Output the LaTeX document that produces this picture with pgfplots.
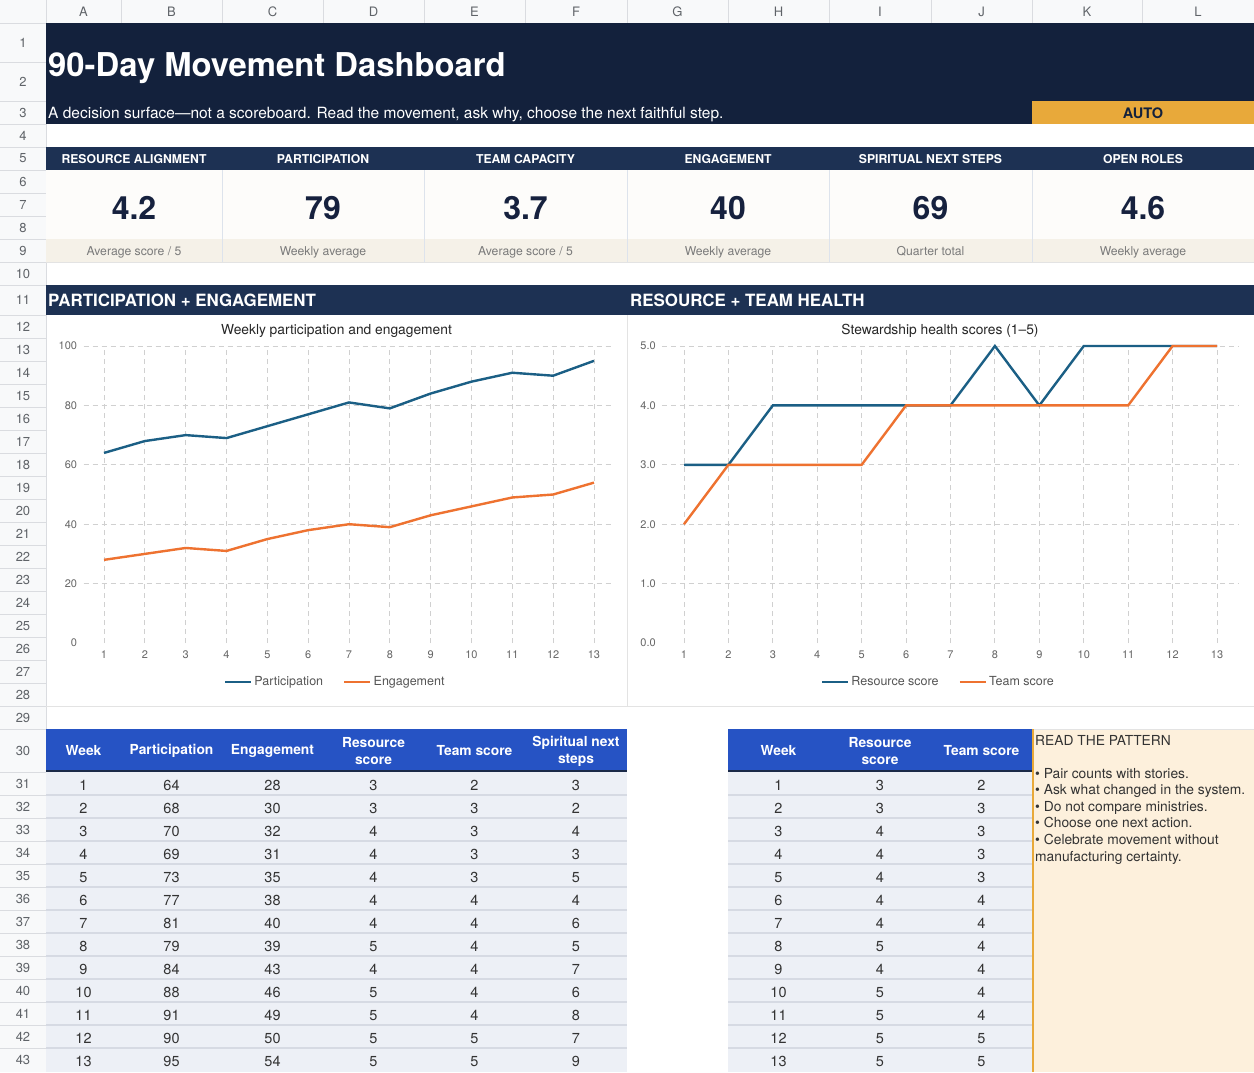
\documentclass[border=0pt]{standalone}
\usepackage{pgfplots}
\usepackage{pgfplotstable}
\pgfplotsset{compat=1.18}
\usepackage{fontspec}
\setmainfont{TeX Gyre Heros}

\definecolor{banner}{HTML}{13213C}
\definecolor{bar}{HTML}{1D3153}
\definecolor{autoorange}{HTML}{E8A93A}
\definecolor{kpival}{HTML}{16213E}
\definecolor{kpibg}{HTML}{FDFCFA}
\definecolor{kpisub}{HTML}{F5F1E8}
\definecolor{kpisep}{HTML}{DDE3EC}
\definecolor{subgrey}{HTML}{7A7A7A}
\definecolor{headbg}{HTML}{F8F9FA}
\definecolor{hdrline}{HTML}{DADCE0}
\definecolor{headtxt}{HTML}{5F6368}
\definecolor{thblue}{HTML}{2653C4}
\definecolor{thline}{HTML}{1B2A48}
\definecolor{tbody}{HTML}{EDF0F6}
\definecolor{tsep}{HTML}{D6DAE3}
\definecolor{notebg}{HTML}{FDF0DC}
\definecolor{partc}{HTML}{1B5F85}
\definecolor{engc}{HTML}{EE7230}
\definecolor{gridc}{HTML}{D0D0D0}
\definecolor{ticktxt}{HTML}{666666}
\definecolor{legtxt}{HTML}{555555}
\definecolor{bodytxt}{HTML}{333333}
\definecolor{panelline}{HTML}{E3E3E3}

% weekly movement data
\pgfplotstableread{
week part eng res team steps
1  64 28 3 2 3
2  68 30 3 3 2
3  70 32 4 3 4
4  69 31 4 3 3
5  73 35 4 3 5
6  77 38 4 4 4
7  81 40 4 4 6
8  79 39 5 4 5
9  84 43 4 4 7
10 88 46 5 4 6
11 91 49 5 4 8
12 90 50 5 5 7
13 95 54 5 5 9
}\movement

\newcommand{\fsz}[2]{\fontsize{#1}{#2}\selectfont}

\newcommand{\kpi}[4]{%
  \node[anchor=base, text=white, font=\bfseries\fsz{12.2}{14}] at (#1,-163) {#2};
  \node[anchor=base, text=kpival, font=\bfseries\fsz{32}{36}] at (#1,-219) {#3};
  \node[anchor=base, text=subgrey, font=\fsz{12.2}{14}] at (#1,-255) {#4};
}
\newcommand{\thcell}[2]{%
  \node[anchor=center, align=center, text=white, font=\bfseries\fsz{13.8}{17}] at (#1,-751) {#2};
}

\pgfplotsset{
  chartaxis/.style={
    scale only axis, clip=false,
    axis line style={draw=none},
    major tick length=0pt,
    xmajorgrids=true, ymajorgrids=false,
    extra y tick labels={},
    extra y tick style={grid=major},
    grid style={gridc, dash pattern=on 5pt off 4pt, line width=0.9pt},
    tick label style={font=\fsz{11}{12}, text=ticktxt},
    xticklabel style={yshift=-4.5pt},
    /pgf/number format/assume math mode=true,
    legend cell align=left,
    legend columns=2,
    legend style={draw=none, fill=none, font=\fsz{12.5}{14}, text=legtxt,
      anchor=center, /tikz/every even column/.append style={column sep=18pt}},
    legend image code/.code={\draw[##1, line width=2.5pt] (0pt,0pt) -- (26pt,0pt);},
  }
}

\begin{document}
\begin{tikzpicture}[x=1pt,y=1pt]
\path[use as bounding box] (0,0) rectangle (1254,-1072);
\fill[white] (0,0) rectangle (1254,-1072);

% ---- sheet headers ----
\fill[headbg] (0,0) rectangle (1254,-23);
\fill[headbg] (0,-23) rectangle (46,-1072);
\foreach \c in {46,121,222,323,424,525,627,728,829,931,1032,1142}
  \draw[hdrline] (\c,0) -- (\c,-23);
\draw[hdrline] (0,-23) -- (1254,-23);
\draw[hdrline] (46,0) -- (46,-1072);
\foreach \l/\cx in {A/83.5,B/171.5,C/272.5,D/373.5,E/474.5,F/576,G/677.5,H/778.5,I/880,J/981.5,K/1087,L/1198}
  \node[anchor=base, text=headtxt, font=\fsz{13}{15}] at (\cx,-16.5) {\l};
\foreach \r in {62,101,124,147,170,193,216,239,262,285,315,338,361,384,407,430,453,476,499,522,545,568,591,614,637,660,683,706,729,772,795,818,841,864,887,910,933,956,979,1002,1025,1048}
  \draw[hdrline] (0,-\r) -- (46,-\r);
\foreach \n/\cy in {1/42.5,2/81.5,3/112.5,4/135.5,5/158.5,6/181.5,7/204.5,8/227.5,9/250.5,10/273.5,11/300,12/326.5,13/349.5,14/372.5,15/395.5,16/418.5,17/441.5,18/464.5,19/487.5,20/510.5,21/533.5,22/556.5,23/579.5,24/602.5,25/625.5,26/648.5,27/671.5,28/694.5,29/717.5,30/750.5,31/783.5,32/806.5,33/829.5,34/852.5,35/875.5,36/898.5,37/921.5,38/944.5,39/967.5,40/990.5,41/1013.5,42/1036.5,43/1059.5}
  \node[anchor=center, text=headtxt, font=\fsz{13}{15}] at (23,-\cy) {\n};

% ---- title banner ----
\fill[banner] (46,-23) rectangle (1254,-124);
\node[anchor=base west, inner sep=0pt, text=white, font=\bfseries\fsz{32.8}{38}] at (48,-76) {90-Day Movement Dashboard};
\node[anchor=base west, inner sep=0pt, text=white, font=\fsz{15.5}{18}] at (48,-118) {A decision surface—not a scoreboard. Read the movement, ask why, choose the next faithful step.};
\fill[autoorange] (1032,-101) rectangle (1254,-124);
\node[anchor=base, text=banner, font=\bfseries\fsz{14.5}{17}] at (1143,-118) {AUTO};

% ---- KPI tiles ----
\fill[bar] (46,-147) rectangle (1254,-170);
\fill[kpibg] (46,-170) rectangle (1254,-239);
\fill[kpisub] (46,-239) rectangle (1254,-262);
\foreach \c in {222,424,627,829,1032}
  \draw[kpisep, line width=1pt] (\c,-170) -- (\c,-262);
\draw[panelline, line width=1pt] (46,-262) -- (1254,-262);
\kpi{134}{RESOURCE ALIGNMENT}{4.2}{Average score / 5}
\kpi{323}{PARTICIPATION}{79}{Weekly average}
\kpi{525.5}{TEAM CAPACITY}{3.7}{Average score / 5}
\kpi{728}{ENGAGEMENT}{40}{Weekly average}
\kpi{930.5}{SPIRITUAL NEXT STEPS}{69}{Quarter total}
\kpi{1143}{OPEN ROLES}{4.6}{Weekly average}

% ---- section bar ----
\fill[bar] (46,-285) rectangle (1254,-315);
\node[anchor=base west, inner sep=0pt, text=white, font=\bfseries\fsz{16.9}{19}] at (48,-306) {PARTICIPATION + ENGAGEMENT};
\node[anchor=base west, inner sep=0pt, text=white, font=\bfseries\fsz{16.9}{19}] at (630,-306) {RESOURCE + TEAM HEALTH};

% ---- chart panels ----
\draw[panelline, line width=1pt] (627,-315) -- (627,-706);
\draw[panelline, line width=1pt] (46,-706) -- (1254,-706);
\node[anchor=base, text=black!85, font=\fsz{13.8}{16}] at (336.5,-334) {Weekly participation and engagement};
\node[anchor=base, text=black!85, font=\fsz{13.8}{16}] at (940,-334) {Stewardship health scores (1–5)};

\begin{axis}[chartaxis,
  at={(83.6pt,-643pt)}, anchor=south west,
  width=530.8pt, height=297pt,
  xmin=0.5, xmax=13.5, ymin=0, ymax=100,
  xtick={1,...,13}, ytick={0,20,...,100},
  extra y ticks={20,40,60,80,100},
  yticklabel style={xshift=-3pt},
  legend style={at={(0.474,-0.131)}},
]
\addplot[partc, line width=2.4pt] table[x=week, y=part] {\movement};
\addlegendentry{Participation}
\addplot[engc, line width=2.4pt] table[x=week, y=eng] {\movement};
\addlegendentry{Engagement}
\end{axis}

\begin{axis}[chartaxis,
  at={(661.8pt,-643pt)}, anchor=south west,
  width=577.4pt, height=297pt,
  xmin=0.5, xmax=13.5, ymin=0, ymax=5,
  xtick={1,...,13}, ytick={0,1,...,5},
  extra y ticks={1,2,3,4,5},
  yticklabel style={xshift=-2.5pt, /pgf/number format/.cd, fixed, fixed zerofill, precision=1},
  legend style={at={(0.479,-0.131)}},
]
\addplot[partc, line width=2.4pt] table[x=week, y=res] {\movement};
\addlegendentry{Resource score}
\addplot[engc, line width=2.4pt] table[x=week, y=team] {\movement};
\addlegendentry{Team score}
\end{axis}

% ---- data tables ----
\fill[thblue] (46,-729) rectangle (627,-772);
\fill[thblue] (728,-729) rectangle (1032,-772);
\fill[tbody] (46,-772) rectangle (627,-1072);
\fill[tbody] (728,-772) rectangle (1032,-1072);
\foreach \r in {795,818,...,1048} {
  \draw[tsep, line width=1.2pt] (46,-\r) -- (627,-\r);
  \draw[tsep, line width=1.2pt] (728,-\r) -- (1032,-\r);
}
\draw[thline, line width=2pt] (46,-771) -- (627,-771);
\draw[thline, line width=2pt] (728,-771) -- (1032,-771);
\thcell{83.5}{Week}
\thcell{171.5}{Participation}
\thcell{272.5}{Engagement}
\thcell{373.5}{Resource\\score}
\thcell{474.5}{Team score}
\thcell{576}{Spiritual next\\steps}
\thcell{778.5}{Week}
\thcell{880}{Resource\\score}
\thcell{981.5}{Team score}
\foreach \w/\p/\e/\r/\t/\s [count=\i from 0] in {1/64/28/3/2/3,2/68/30/3/3/2,3/70/32/4/3/4,4/69/31/4/3/3,5/73/35/4/3/5,6/77/38/4/4/4,7/81/40/4/4/6,8/79/39/5/4/5,9/84/43/4/4/7,10/88/46/5/4/6,11/91/49/5/4/8,12/90/50/5/5/7,13/95/54/5/5/9} {
  \pgfmathsetmacro\by{790+23*\i}
  \foreach \cx/\v in {83.5/\w,171.5/\p,272.5/\e,373.5/\r,474.5/\t,576/\s,778.5/\w,880/\r,981.5/\t}
    \node[anchor=base, text=bodytxt, font=\fsz{14.5}{17}] at (\cx,-\by) {\v};
}

% ---- notes ----
\fill[notebg] (1032,-729) rectangle (1254,-1072);
\draw[panelline, line width=1pt] (1032,-729) -- (1254,-729);
\draw[autoorange, line width=2pt] (1033,-729) -- (1033,-1072);
\begin{scope}[every node/.style={anchor=base west, inner sep=0pt, text=bodytxt, font=\fsz{13.8}{16}}]
\node at (1035,-745) {READ THE PATTERN};
\node at (1035,-778) {• Pair counts with stories.};
\node at (1035,-794.6) {• Ask what changed in the system.};
\node at (1035,-811.2) {• Do not compare ministries.};
\node at (1035,-827.8) {• Choose one next action.};
\node at (1035,-844.4) {• Celebrate movement without};
\node at (1035,-861) {manufacturing certainty.};
\end{scope}
\end{tikzpicture}
\end{document}
